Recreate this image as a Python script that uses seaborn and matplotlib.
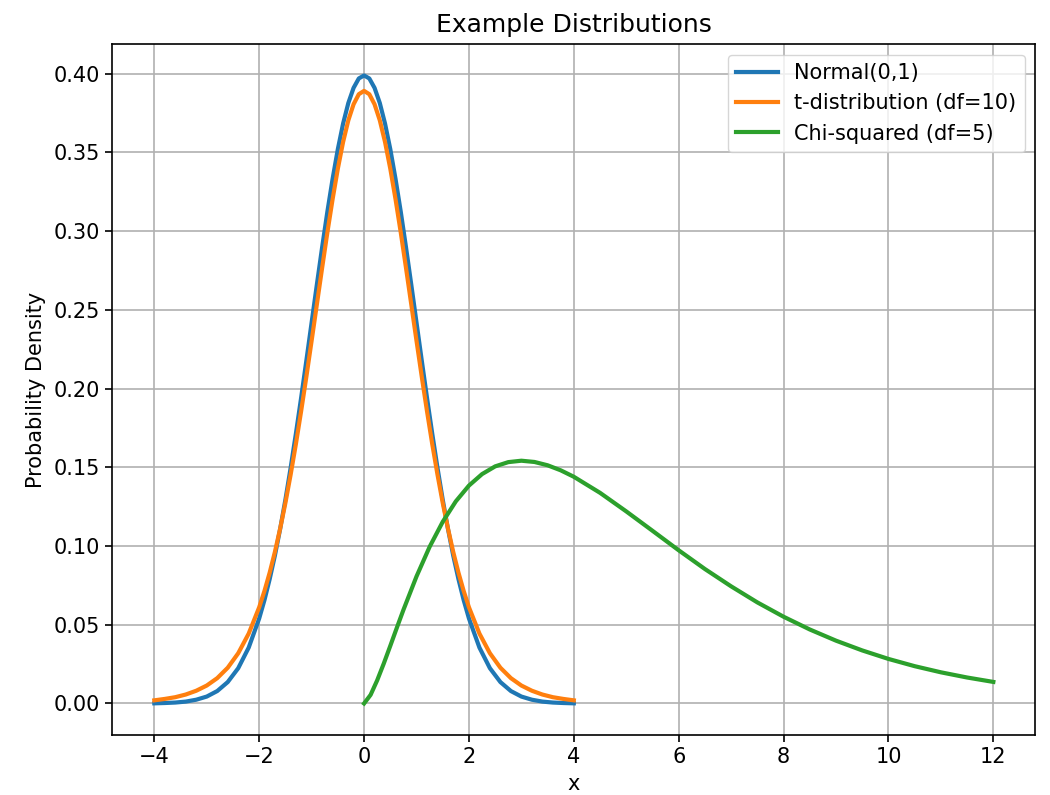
import matplotlib
matplotlib.use("Agg")
import matplotlib.pyplot as plt
import seaborn as sns

# Values (positive half; curves are symmetric)
x_half = [0.0, 0.1, 0.2, 0.3, 0.4, 0.5, 0.6, 0.7, 0.8, 0.9, 1.0, 1.1, 1.2, 1.3, 1.4, 1.5,
          1.6, 1.7, 1.8, 1.9, 2.0, 2.2, 2.4, 2.6, 2.8, 3.0, 3.2, 3.4, 3.6, 3.8, 4.0]
normal_half = [0.3989, 0.3970, 0.3910, 0.3814, 0.3683, 0.3521, 0.3332, 0.3123, 0.2897,
               0.2661, 0.2420, 0.2179, 0.1942, 0.1714, 0.1497, 0.1295, 0.1109, 0.0940,
               0.0790, 0.0656, 0.0540, 0.0355, 0.0224, 0.0136, 0.0079, 0.0044, 0.0024,
               0.0012, 0.0006, 0.0003, 0.0001]
t_half = [0.3891, 0.3870, 0.3806, 0.3704, 0.3566, 0.3397, 0.3203, 0.2991, 0.2766, 0.2535,
          0.2304, 0.2076, 0.1857, 0.1648, 0.1454, 0.1274, 0.1111, 0.0963, 0.0831, 0.0714,
          0.0611, 0.0444, 0.0319, 0.0227, 0.0161, 0.0114, 0.0081, 0.0057, 0.0040, 0.0029,
          0.0020]
x_sym = [-v for v in x_half[::-1]] + x_half[1:]
normal_y = normal_half[::-1] + normal_half[1:]
t_y = t_half[::-1] + t_half[1:]

x_chi = [0.0, 0.125, 0.25, 0.375, 0.5, 0.625, 0.75, 1.0, 1.25, 1.5, 1.75, 2.0, 2.25, 2.5,
         2.75, 3.0, 3.25, 3.5, 3.75, 4.0, 4.5, 5.0, 5.5, 6.0, 6.5, 7.0, 7.5, 8.0, 8.5, 9.0,
         9.5, 10.0, 10.5, 11.0, 11.5, 12.0]
chi_y = [0.0, 0.0055, 0.0147, 0.0253, 0.0366, 0.0481, 0.0594, 0.0807, 0.0995, 0.1154,
         0.1284, 0.1384, 0.1457, 0.1506, 0.1533, 0.1542, 0.1534, 0.1513, 0.1481, 0.1440,
         0.1338, 0.1220, 0.1097, 0.0973, 0.0854, 0.0744, 0.0642, 0.0551, 0.0470, 0.0399,
         0.0337, 0.0283, 0.0237, 0.0198, 0.0165, 0.0137]

labels = ["Normal(0,1)", "t-distribution (df=10)", "Chi-squared (df=5)"]
colors = ["#1f77b4", "#ff7f0e", "#2ca02c"]

plt.rcParams.update({
    "font.size": 15,
    "axes.linewidth": 1.2,
    "xtick.major.width": 1.2,
    "ytick.major.width": 1.2,
    "xtick.major.size": 5.2,
    "ytick.major.size": 5.2,
})

fig = plt.figure(figsize=(10.5, 7.95), dpi=100)
ax = fig.add_axes([0.107, 0.0755, 0.879, 0.869])

sns.lineplot(x=x_sym, y=normal_y, ax=ax, color=colors[0], linewidth=3, label=labels[0])
sns.lineplot(x=x_sym, y=t_y, ax=ax, color=colors[1], linewidth=3, label=labels[1])
sns.lineplot(x=x_chi, y=chi_y, ax=ax, color=colors[2], linewidth=3, label=labels[2])

ax.set_title("Example Distributions", fontsize=18, pad=9)
ax.set_xlabel("x", fontsize=15, labelpad=5)
ax.set_ylabel("Probability Density", fontsize=15, labelpad=6)
ax.set_xticks([-4, -2, 0, 2, 4, 6, 8, 10, 12])
ax.set_xticklabels(["\u22124", "\u22122", "0", "2", "4", "6", "8", "10", "12"])
ax.set_yticks([0.0, 0.05, 0.10, 0.15, 0.20, 0.25, 0.30, 0.35, 0.40])
ax.set_yticklabels(["0.00", "0.05", "0.10", "0.15", "0.20", "0.25", "0.30", "0.35", "0.40"])
ax.set_xlim(-4.8, 12.8)
ax.set_ylim(-0.02, 0.4188)
ax.grid(True, color="#b0b0b0", linewidth=1.2)
ax.set_axisbelow(True)
ax.legend(loc="upper right", fontsize=15)

fig.savefig("out.png", dpi=100)
